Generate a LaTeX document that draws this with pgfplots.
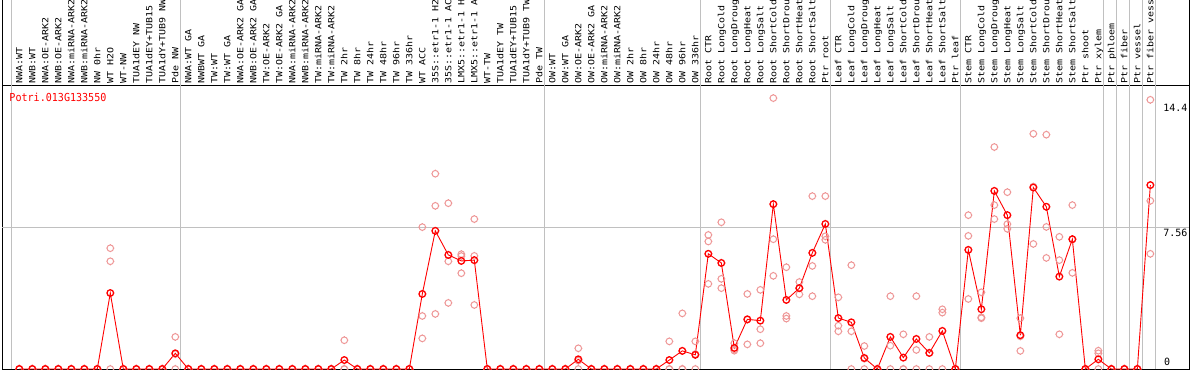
\documentclass[border=0pt]{standalone}
\usepackage{pgfplots}
\pgfplotsset{compat=1.18}
\usepackage{pgfplotstable}
\usepackage{fontspec}
\newfontfamily\labfont[FakeStretch=1.175]{DejaVu Sans Mono}
\newfontfamily\monofont{DejaVu Sans Mono}
\newfontfamily\titfont[FakeStretch=0.915]{DejaVu Sans Mono}
\definecolor{gridgray}{RGB}{192,192,192}
\definecolor{repcol}{RGB}{238,150,150}
\definecolor{meancol}{RGB}{255,0,0}
\pgfdeclareplotmark{tc}{%
  \pgfpathcircle{\pgfpointorigin}{3.3bp}%
  \pgfpathmoveto{\pgfpoint{0bp}{3.3bp}}\pgfpathlineto{\pgfpoint{0bp}{4.0bp}}%
  \pgfpathmoveto{\pgfpoint{0bp}{-3.3bp}}\pgfpathlineto{\pgfpoint{0bp}{-4.0bp}}%
  \pgfpathmoveto{\pgfpoint{3.3bp}{0bp}}\pgfpathlineto{\pgfpoint{4.0bp}{0bp}}%
  \pgfpathmoveto{\pgfpoint{-3.3bp}{0bp}}\pgfpathlineto{\pgfpoint{-4.0bp}{0bp}}%
  \pgfusepathqstroke}
\pgfplotstableread{
x m r1 r2 r3
0 0 0 0 0
1 0 0 0 0
2 0 0 0 0
3 0 0 0 0
4 0 0 0 0
5 0 0 0 0
6 0 0 0 0
7 4.07 6.47 5.77 0
8 0 0 0 0
9 0 0 0 0
10 0 0 0 0
11 0 0 0 0
12 0.84 1.72 0.80 0
13 0 0 0 0
14 0 0 0 0
15 0 0 0 0
16 0 0 0 0
17 0 0 0 0
18 0 0 0 0
19 0 0 0 0
20 0 0 0 0
21 0 0 0 0
22 0 0 0 0
23 0 0 0 0
24 0 0 0 0
25 0.48 1.54 0 0
26 0 0 0 0
27 0 0 0 0
28 0 0 0 0
29 0 0 0 0
30 0 0 0 0
31 4.02 7.60 2.84 1.64
32 7.40 10.46 8.74 2.95
33 6.11 8.88 5.77 3.54
34 5.79 6.15 6.05 5.13
35 5.83 8.03 6.06 3.43
36 0 0 0 0
37 0 0 0 0
38 0 0 0 0
39 0 0 0 0
40 0 0 0 0
41 0 0 0 0
42 0 0 0 0
43 0.52 1.11 0.45 0
44 0 0 0 0
45 0 0 0 0
46 0 0 0 0
47 0 0 0 0
48 0 0 0 0
49 0 0 0 0
50 0.48 1.48 0 0
51 0.97 2.98 0 0
52 0.76 1.48 0.80 0
53 6.17 7.18 6.83 4.56
54 5.68 7.86 4.83 4.33
55 1.13 1.38 1.05 0.98
56 2.66 4.02 2.64 1.32
57 2.59 4.24 2.13 1.38
58 8.83 14.51 6.95 4.99
59 3.70 5.45 2.84 2.70
60 4.33 4.66 4.33 4.00
61 6.22 9.26 5.52 3.90
62 7.77 9.26 7.11 6.92
63 2.73 3.84 2.32 2.02
64 2.50 5.56 2.02 0
65 0.59 1.23 0.55 0
66 0 0 0 0
67 1.72 3.90 1.25 0
68 0.61 1.86 0 0
69 1.61 3.90 1.02 0
70 0.86 1.72 0.86 0
71 2.04 3.20 3.02 0
72 0 0 0 0
73 6.38 8.24 7.13 3.75
74 3.20 4.11 2.77 2.72
75 9.54 11.89 8.78 8.03
76 8.24 9.47 7.76 7.51
77 1.81 2.72 1.75 0.97
78 9.72 12.60 9.77 6.70
79 8.69 12.55 7.61 5.95
80 4.95 7.08 5.83 1.86
81 6.95 8.78 6.95 5.15
82 0 0 0 0
83 0.52 0.98 0.84 0
84 0 0 0 0
85 0 0 0 0
86 0 0 0 0
87 9.85 14.42 9.01 6.17
}\data
\begin{document}
\begin{tikzpicture}
\begin{axis}[
  at={(0,0)}, anchor=south west,
  scale only axis, width=1187.3bp, height=283bp,
  xmin=-1.33, xmax=90, ymin=0, ymax=15.158,
  clip=false,
  axis line style={black, line width=1bp},
  ytick=\empty,
  xtick={0,...,87},
  major tick length=0pt,
  xticklabel pos=upper,
  xticklabel shift=2bp,
  xticklabel style={rotate=90, anchor=west, inner sep=0pt, text height=6.2bp, text depth=0pt,
     font=\labfont\fontsize{8.5bp}{10bp}\selectfont},
  xticklabels={NWA:WT, NWB:WT, NWA:OE-ARK2, NWB:OE-ARK2, NWA:miRNA-ARK2, NWB:miRNA-ARK2, NW 0hr, WT H2O, WT-NW, TUA1dEY NW, TUA1dEY+TUB15, TUA1dY+TUB9 NW, Pde NW,
    NWA:WT GA, NWBWT GA, TW:WT, TW:WT GA, NWA:OE-ARK2 GA, NWB:OE-ARK2 GA, TW:OE-ARK2, TW:OE-ARK2 GA, NWA:miRNA-ARK2, NWB:miRNA-ARK2, TW:miRNA-ARK2, TW:miRNA-ARK2, TW 2hr, TW 8hr, TW 24hr, TW 48hr, TW 96hr, TW 336hr, WT ACC, 35S::etr1-1 H2, 35S::etr1-1 AC, LMX5::etr1-1 H, LMX5::etr1-1 A, WT-TW, TUA1dEY TW, TUA1dEY+TUB15, TUA1dY+TUB9 TW, Pde TW,
    OW:WT, OW:WT GA, OW:OE-ARK2, OW:OE-ARK2 GA, OW:miRNA-ARK2, OW:miRNA-ARK2, OW 2hr, OW 8hr, OW 24hr, OW 48hr, OW 96hr, OW 336hr,
    Root CTR, Root LongCold, Root LongDroug, Root LongHeat, Root LongSalt, Root ShortCold, Root ShortDrou, Root ShortHeat, Root ShortSalt, Ptr root,
    Leaf CTR, Leaf LongCold, Leaf LongDroug, Leaf LongHeat, Leaf LongSalt, Leaf ShortCold, Leaf ShortDrou, Leaf ShortHeat, Leaf ShortSalt, Ptr leaf,
    Stem CTR, Stem LongCold, Stem LongDroug, Stem LongHeat, Stem LongSalt, Stem ShortCold, Stem ShortDrou, Stem ShortHeat, Stem ShortSalt, Ptr shoot,
    Ptr xylem, Ptr phloem, Ptr fiber, Ptr vessel, Ptr fiber vess},
]
% separators and grid
\foreach \v in {-0.62,12.38,40.38,52.4,62.4,72.4,83.38,84.38,85.38,86.38,87.4}{
  \edef\tmp{\noexpand\draw[gridgray, line width=1bp] (axis cs:\v,0) -- (axis cs:\v,19.8);}\tmp
}
\draw[gridgray, line width=1bp] (axis cs:-1.33,7.56) -- (axis cs:90,7.56);
\draw[black, line width=1bp] (rel axis cs:0,1) -- (rel axis cs:0,1.32);
\draw[black, line width=1bp] (rel axis cs:1,1) -- (rel axis cs:1,1.32);
% replicates
\addplot[only marks, mark=tc, color=repcol, mark options={line width=1bp}] table[x=x,y=r1]{\data};
\addplot[only marks, mark=tc, color=repcol, mark options={line width=1bp}] table[x=x,y=r2]{\data};
\addplot[only marks, mark=tc, color=repcol, mark options={line width=1bp}] table[x=x,y=r3]{\data};
% mean
\addplot[color=meancol, line width=0.9bp, mark=tc, mark options={line width=1.3bp}] table[x=x,y=m]{\data};
% texts
\node[anchor=base west, inner sep=0pt, text=meancol, font=\titfont\fontsize{11bp}{13bp}\selectfont] at (axis cs:-0.77,14.34) {Potri.013G133550};
\node[anchor=west, inner sep=0pt, font=\monofont\fontsize{10bp}{12bp}\selectfont] at (axis cs:87.98,14.0) {14.4};
\node[anchor=west, inner sep=0pt, font=\monofont\fontsize{10bp}{12bp}\selectfont] at (axis cs:87.98,7.31) {7.56};
\node[anchor=west, inner sep=0pt, font=\monofont\fontsize{10bp}{12bp}\selectfont] at (axis cs:88.05,0.36) {0};
\end{axis}
\pgfresetboundingbox
\path[use as bounding box] (-2bp,-1bp) rectangle (1192bp,369bp);
\end{tikzpicture}
\end{document}
